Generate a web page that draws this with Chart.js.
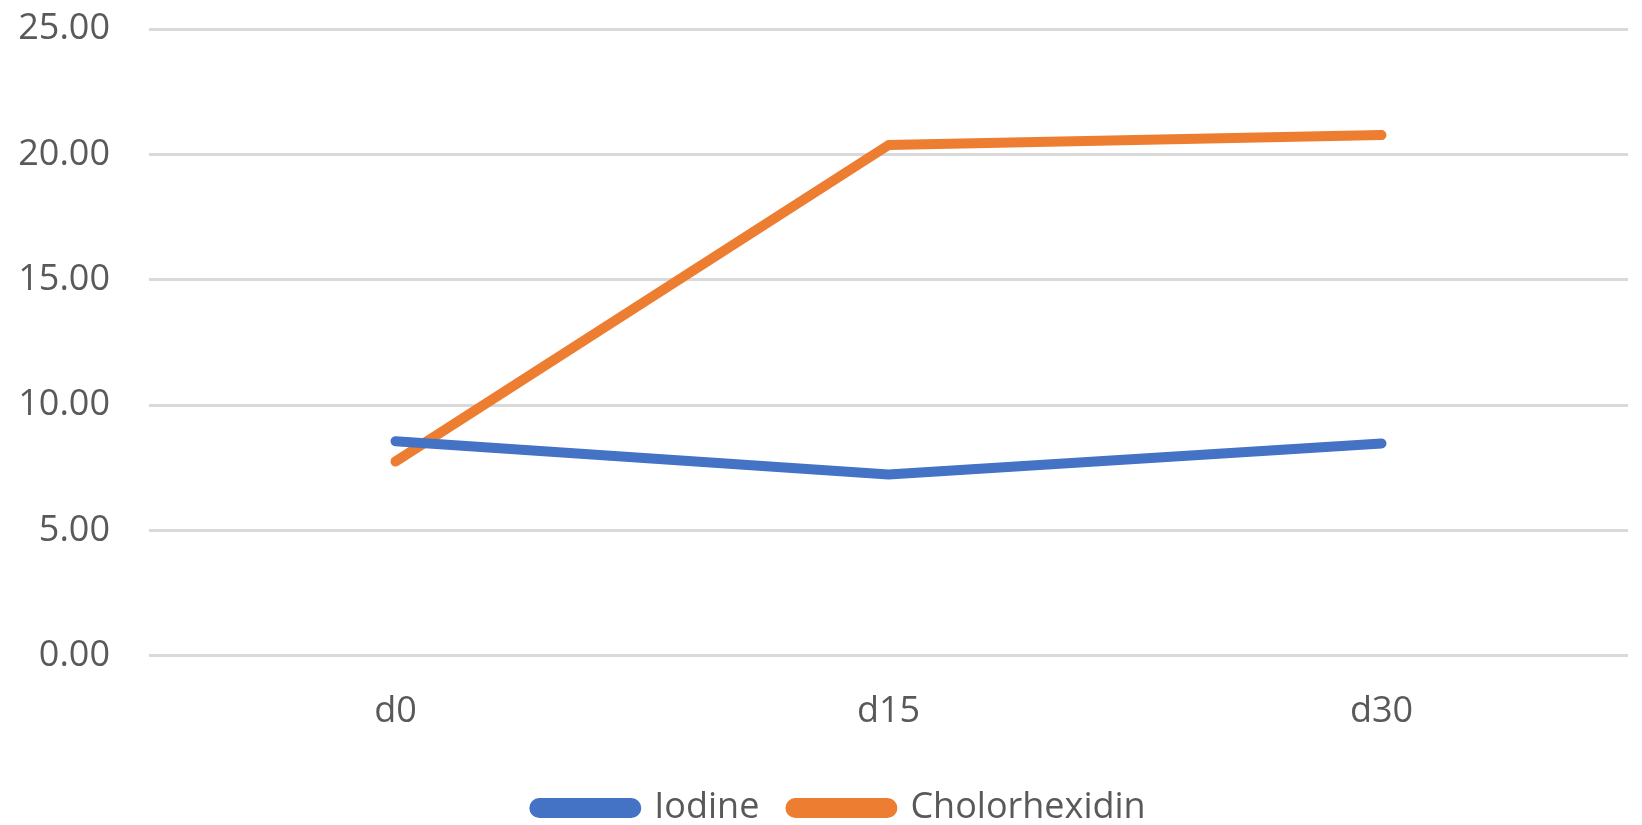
<!DOCTYPE html>
<html>
<head>
<meta charset="utf-8">
<script src="https://cdn.jsdelivr.net/npm/chart.js@4/dist/chart.umd.min.js"></script>
<style>
  html, body { margin: 0; padding: 0; background: #ffffff; }
  #wrap { width: 1642px; height: 825px; }
</style>
</head>
<body>
<div id="wrap"><canvas id="chart" width="1642" height="825"></canvas></div>
<script>
"use strict";

// Data
const days = ["d0", "d15", "d30"];
const iodine = [8.56, 7.23, 8.47];
const chlorhexidine = [7.75, 20.37, 20.77];
const yTicks = [0, 5, 10, 15, 20, 25];

// Style
const textColor = "#595959";
const gridColor = "#d9d9d9";
const fontFamily = "'Open Sans', 'Liberation Sans', sans-serif";
const fontSize = 36;

// The legend in the original sits a little right of centre
const legendNudge = {
  id: "legendNudge",
  afterLayout(chart) {
    if (!chart.legend) return;
    chart.legend.left += 26;
    chart.legend.right += 26;
  },
};

const ctx = document.getElementById("chart");

new Chart(ctx, {
  type: "line",
  data: {
    labels: days,
    datasets: [
      {
        label: "Iodine",
        data: iodine,
        borderColor: "#4472c4",
        backgroundColor: "#4472c4",
        borderWidth: 10,
        borderCapStyle: "round",
        borderJoinStyle: "round",
        pointRadius: 0,
        tension: 0,
      },
      {
        label: "Cholorhexidin",
        data: chlorhexidine,
        borderColor: "#ed7d31",
        backgroundColor: "#ed7d31",
        borderWidth: 10,
        borderCapStyle: "round",
        borderJoinStyle: "round",
        pointRadius: 0,
        tension: 0,
      },
    ],
  },
  options: {
    responsive: false,
    animation: false,
    layout: { padding: { left: 0, right: 14, top: 29, bottom: -11 } },
    scales: {
      x: {
        offset: true,
        grid: { display: false },
        border: { display: false },
        ticks: { color: textColor, font: { family: fontFamily, size: fontSize }, padding: 26 },
      },
      y: {
        min: 0,
        max: 25,
        afterBuildTicks: (axis) => {
          axis.ticks = yTicks.map((v) => ({ value: v }));
        },
        afterFit: (axis) => {
          // plot starts at x = 149, labels may overhang top/bottom
          axis.width = 149;
          axis.paddingTop = 0;
          axis.paddingBottom = 0;
        },
        grid: { color: gridColor, lineWidth: 3, drawTicks: false },
        border: { display: false },
        ticks: {
          color: textColor,
          font: { family: fontFamily, size: fontSize },
          padding: 39,
          callback: (v) => Number(v).toFixed(2),
        },
      },
    },
    plugins: {
      legend: {
        position: "bottom",
        labels: {
          color: textColor,
          font: { family: fontFamily, size: fontSize },
          boxWidth: 102,
          boxHeight: 10,
          useBorderRadius: true,
          borderRadius: 5,
          padding: 31,
        },
      },
      tooltip: { enabled: false },
    },
  },
  plugins: [legendNudge],
});
</script>
</body>
</html>
